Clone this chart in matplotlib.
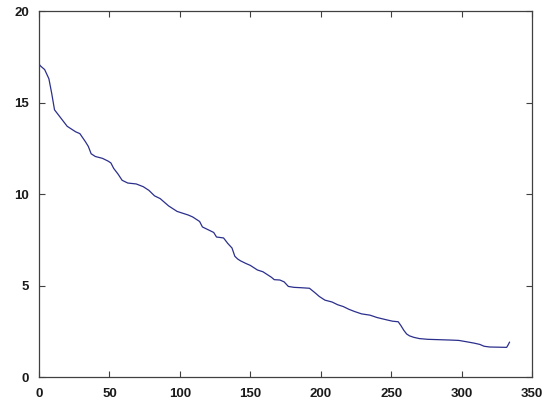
import matplotlib
matplotlib.use('Agg')
import matplotlib.pyplot as plt

# curve (index, value)
x_vals = [0, 1, 4, 7, 9, 11, 13, 16, 20, 23, 26, 29, 33, 35, 37, 40, 45, 49,
          51, 53, 56, 59, 63, 69, 74, 78, 82, 86, 89, 92, 95, 98, 102, 106,
          109, 112, 114, 116, 120, 124, 126, 131, 134, 137, 139, 141, 143,
          147, 150, 153, 155, 159, 162, 165, 167, 171, 174, 177, 181, 186,
          192, 196, 199, 203, 208, 212, 216, 220, 224, 229, 235, 240, 247,
          251, 255, 257, 259, 261, 263, 266, 270, 276, 284, 292, 298, 304,
          309, 313, 316, 320, 326, 332, 333, 334]
y_vals = [17.1, 17.0, 16.8, 16.3, 15.5, 14.6, 14.4, 14.1, 13.7, 13.55, 13.4,
          13.3, 12.85, 12.6, 12.2, 12.05, 11.95, 11.8, 11.7, 11.4, 11.1,
          10.75, 10.6, 10.55, 10.4, 10.2, 9.9, 9.75, 9.55, 9.35, 9.2, 9.05,
          8.95, 8.85, 8.75, 8.6, 8.5, 8.2, 8.05, 7.9, 7.65, 7.6, 7.3, 7.05,
          6.6, 6.45, 6.35, 6.2, 6.1, 5.95, 5.85, 5.75, 5.6, 5.45, 5.32, 5.3,
          5.2, 4.95, 4.9, 4.88, 4.85, 4.6, 4.4, 4.2, 4.1, 3.95, 3.85, 3.7,
          3.58, 3.45, 3.38, 3.25, 3.12, 3.05, 3.02, 2.8, 2.55, 2.35, 2.25,
          2.17, 2.1, 2.06, 2.04, 2.02, 2.0, 1.92, 1.85, 1.78, 1.68, 1.64,
          1.63, 1.62, 1.75, 1.9]

x_ticks = [0, 50, 100, 150, 200, 250, 300, 350]
y_ticks = [0, 5, 10, 15, 20]

plt.rcParams['font.family'] = ['Liberation Sans', 'DejaVu Sans']

fig = plt.figure(figsize=(5.52, 4.05), dpi=100)
ax = fig.add_axes([0.0707, 0.0691, 0.8931, 0.9037])

ax.plot(x_vals, y_vals, color='#2b2f8c', linewidth=0.9)

ax.set_xlim(0, 350)
ax.set_ylim(0, 20)
ax.set_xticks(x_ticks)
ax.set_yticks(y_ticks)
ax.tick_params(direction='in', length=4, width=0.8, color='#404040',
               top=True, right=True, labelsize=9.5)
ax.tick_params(axis='x', pad=8)
ax.tick_params(axis='y', pad=7)
for lbl in ax.get_xticklabels() + ax.get_yticklabels():
    lbl.set_fontweight('bold')
    lbl.set_color('#1a1a1a')
for spine in ax.spines.values():
    spine.set_color('#404040')
    spine.set_linewidth(0.9)

fig.savefig('out.png', dpi=100)
